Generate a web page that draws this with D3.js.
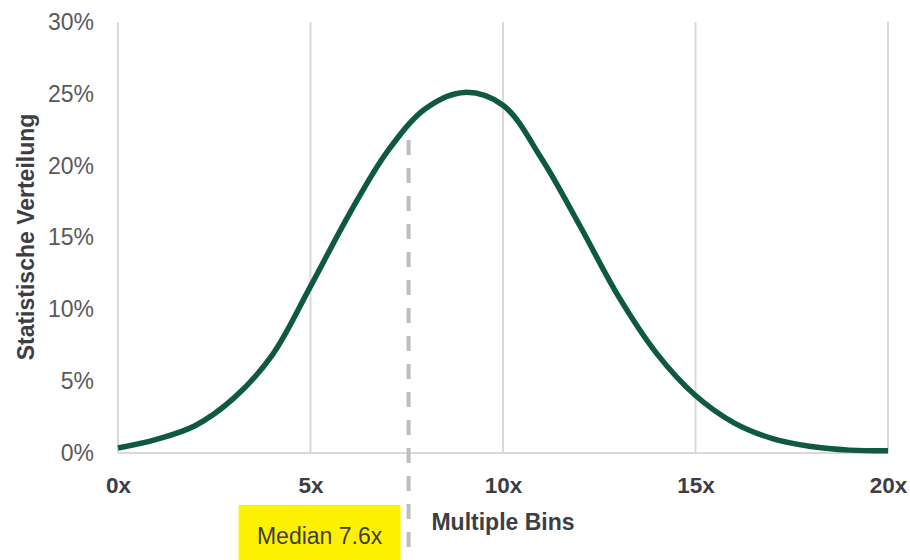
<!DOCTYPE html>
<html>
<head>
<meta charset="utf-8">
<script src="https://cdn.jsdelivr.net/npm/d3@7"></script>
<style>
  html, body { margin: 0; padding: 0; background: #fff; }
  svg text { font-family: "Liberation Sans", Arial, sans-serif; }
</style>
</head>
<body>
<svg id="chart" width="910" height="560"></svg>
<script>
// Data
const multiples = [0,1,2,3,4,5,6,7,8,9,10,11,12,13,14,15,16,17,18,19,20];
const shares = [0.35,0.95,1.9,3.8,6.8,11.6,16.6,21.0,24.0,25.1,24.2,20.5,15.8,10.9,6.9,4.0,2.1,1.0,0.45,0.2,0.15];
const xTicks = [0,5,10,15,20];
const yTicks = [0,5,10,15,20,25,30];
const median = 7.6;
const medianLabel = "Median 7.6x";
const xTitle = "Multiple Bins";
const yTitle = "Statistische Verteilung";

const svg = d3.select("#chart");
const x = d3.scaleLinear().domain([0,20]).range([118,888]);
const y = d3.scaleLinear().domain([0,30]).range([453,22]);

// vertical gridlines
svg.append("g").selectAll("line").data(xTicks).join("line")
  .attr("x1", d => x(d)).attr("x2", d => x(d))
  .attr("y1", y(30)).attr("y2", y(0))
  .attr("stroke", "#d9d9d9").attr("stroke-width", 2);

// x axis baseline
svg.append("line")
  .attr("x1", x(0)).attr("x2", x(20)).attr("y1", y(0)).attr("y2", y(0))
  .attr("stroke", "#d9d9d9").attr("stroke-width", 2);

// y tick labels
const yAxis = d3.axisLeft(y).tickValues(yTicks).tickFormat(d => d + "%").tickSize(0).tickPadding(0);
const gy = svg.append("g").attr("transform", "translate(94,0)").call(yAxis);
gy.select(".domain").remove();
gy.selectAll("text").attr("font-size", 23).attr("fill", "#595959")
  .attr("font-family", "Liberation Sans, Arial, sans-serif");

// x tick labels
const xAxis = d3.axisBottom(x).tickValues(xTicks).tickFormat(d => d + "x").tickSize(0).tickPadding(0);
const gx = svg.append("g").attr("transform", "translate(0,477)").call(xAxis);
gx.select(".domain").remove();
gx.selectAll("text").attr("font-size", 22.5).attr("font-weight", "bold").attr("fill", "#3d3d45")
  .attr("font-family", "Liberation Sans, Arial, sans-serif");

// median yellow box
const boxW = 162, boxH = 55;
svg.append("rect")
  .attr("x", x(median) - 10 - boxW).attr("y", 505).attr("width", boxW).attr("height", boxH)
  .attr("fill", "#fff200");
svg.append("text")
  .attr("x", x(median) - 10 - boxW/2).attr("y", 544)
  .attr("text-anchor", "middle").attr("font-size", 23).attr("fill", "#404040")
  .text(medianLabel);

// median dashed line
svg.append("line")
  .attr("x1", x(median) - 2).attr("x2", x(median) - 2)
  .attr("y1", 140).attr("y2", 560)
  .attr("stroke", "#bdbdbd").attr("stroke-width", 4)
  .attr("stroke-dasharray", "15,13");

// curve
const line = d3.line().x((d,i) => x(multiples[i])).y(d => y(d)).curve(d3.curveCatmullRom.alpha(0.5));
svg.append("path").datum(shares)
  .attr("d", line).attr("fill", "none")
  .attr("stroke", "#0f5a3d").attr("stroke-width", 5.5)
  .attr("stroke-linejoin", "round");

// axis titles
svg.append("text")
  .attr("x", 503).attr("y", 530).attr("text-anchor", "middle")
  .attr("font-size", 23).attr("font-weight", "bold").attr("fill", "#3d3d45")
  .text(xTitle);
svg.append("text")
  .attr("transform", "translate(34,237) rotate(-90)").attr("text-anchor", "middle")
  .attr("font-size", 23).attr("font-weight", "bold").attr("fill", "#3d3d45")
  .text(yTitle);
</script>
</body>
</html>
